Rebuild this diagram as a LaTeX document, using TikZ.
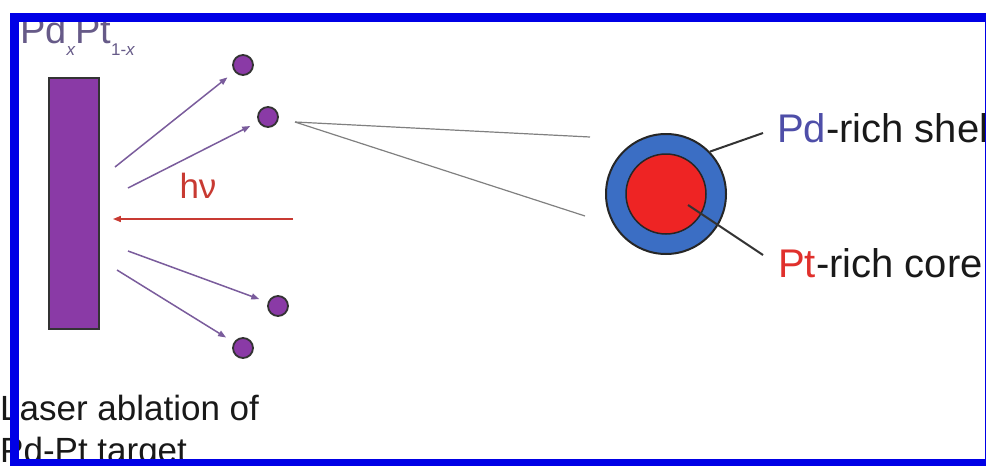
\documentclass[tikz,border=0pt]{standalone}
\usepackage{fontspec}
\setmainfont{Liberation Sans}
\definecolor{frameBlue}{HTML}{0000E6}
\definecolor{ablPurple}{HTML}{8A3AA6}
\definecolor{jetPurple}{HTML}{7A5C9C}
\definecolor{laserRed}{HTML}{C83A32}
\definecolor{shellBlue}{HTML}{3B6EC4}
\definecolor{coreRed}{HTML}{EE2424}
\definecolor{pdBlue}{HTML}{4E4EA8}
\definecolor{ptRed}{HTML}{E0302C}
\definecolor{alloyGray}{HTML}{665A88}
\usetikzlibrary{arrows.meta}

\begin{document}
\begin{tikzpicture}[x=1pt,y=-1pt,
  particle/.style={circle,fill=ablPurple,draw=black!80,line width=1.8pt,inner sep=0pt,minimum size=20pt},
  jet/.style={jetPurple,line width=1.5pt,shorten >=9pt,-{Triangle[length=8pt,width=6pt]}},
  beam/.style={laserRed,line width=1.5pt,shorten >=13pt,-{Triangle[length=8pt,width=6pt]}},
  ray/.style={gray,line width=1.2pt},
  lead/.style={black!80,line width=2pt},
  lbl/.style={black!90,font=\fontsize{40}{44}\selectfont,anchor=base west,inner sep=0pt}]
  \useasboundingbox (0,0) rectangle (986,466);
  \clip (0,0) rectangle (986,466);
  % target and plume
  \node[draw=black!80,fill=ablPurple,line width=1.8pt,minimum width=50pt,minimum height=251pt,inner sep=0pt] (target) at (74,203.5) {};
  \node[alloyGray,anchor=base west,inner sep=0pt,font=\fontsize{38}{42}\selectfont] (alloy) at (20,43)
    {Pd\raisebox{-12pt}{\fontsize{17}{19}\selectfont\itshape x}Pt\raisebox{-12pt}{\fontsize{17}{19}\selectfont 1-\itshape x}};
  \node[particle] (p1) at (243,65) {};
  \node[particle] (p2) at (268,117) {};
  \node[particle] (p3) at (278,306) {};
  \node[particle] (p4) at (243,348) {};
  \coordinate (j1) at (115,167);
  \coordinate (j2) at (128,188);
  \coordinate (j3) at (128,251);
  \coordinate (j4) at (117,270);
  \draw[jet] (j1) -- (p1);
  \draw[jet] (j2) -- (p2);
  \draw[jet] (j3) -- (p3);
  \draw[jet] (j4) -- (p4);
  % laser
  \coordinate (laser) at (293,219);
  \draw[beam] (laser) -- (target.east |- laser);
  \node[laserRed,font=\fontsize{35}{39}\selectfont,anchor=base,inner sep=0pt] (hnu) at (198,198) {hν};
  % zoom onto one particle
  \coordinate (src) at (295,122);
  \coordinate (r1) at (590,137);
  \coordinate (r2) at (585,216);
  \draw[ray] (src) -- (r1);
  \draw[ray] (src) -- (r2);
  % core-shell particle
  \node[circle,fill=shellBlue,draw=black!85,line width=2pt,minimum size=120pt,inner sep=0pt] (shell) at (666,194) {};
  \node[circle,fill=coreRed,draw=black!85,line width=1.5pt,minimum size=80pt,inner sep=0pt] (core) at (666,194) {};
  \node[lbl] (pd) at (777,142) {\textcolor{pdBlue}{Pd}-rich shell};
  \node[lbl] (pt) at (778,277) {\textcolor{ptRed}{Pt}-rich core};
  \coordinate (pdend) at (763,133);
  \coordinate (ptsrc) at (688,205);
  \coordinate (ptend) at (763,255);
  \draw[lead] (shell.44) -- (pdend);
  \draw[lead] (ptsrc) -- (ptend);
  % caption
  \node[black!90,anchor=base west,inner sep=0pt,font=\fontsize{35}{39}\selectfont] (cap1) at (0,420) {Laser ablation of};
  \node[black!90,anchor=base west,inner sep=0pt,font=\fontsize{35}{39}\selectfont] (cap2) at (0,462) {Pd-Pt target};
  % frame
  \draw[frameBlue,line width=9pt] (14.5,17) rectangle (989,463);
\end{tikzpicture}
\end{document}
